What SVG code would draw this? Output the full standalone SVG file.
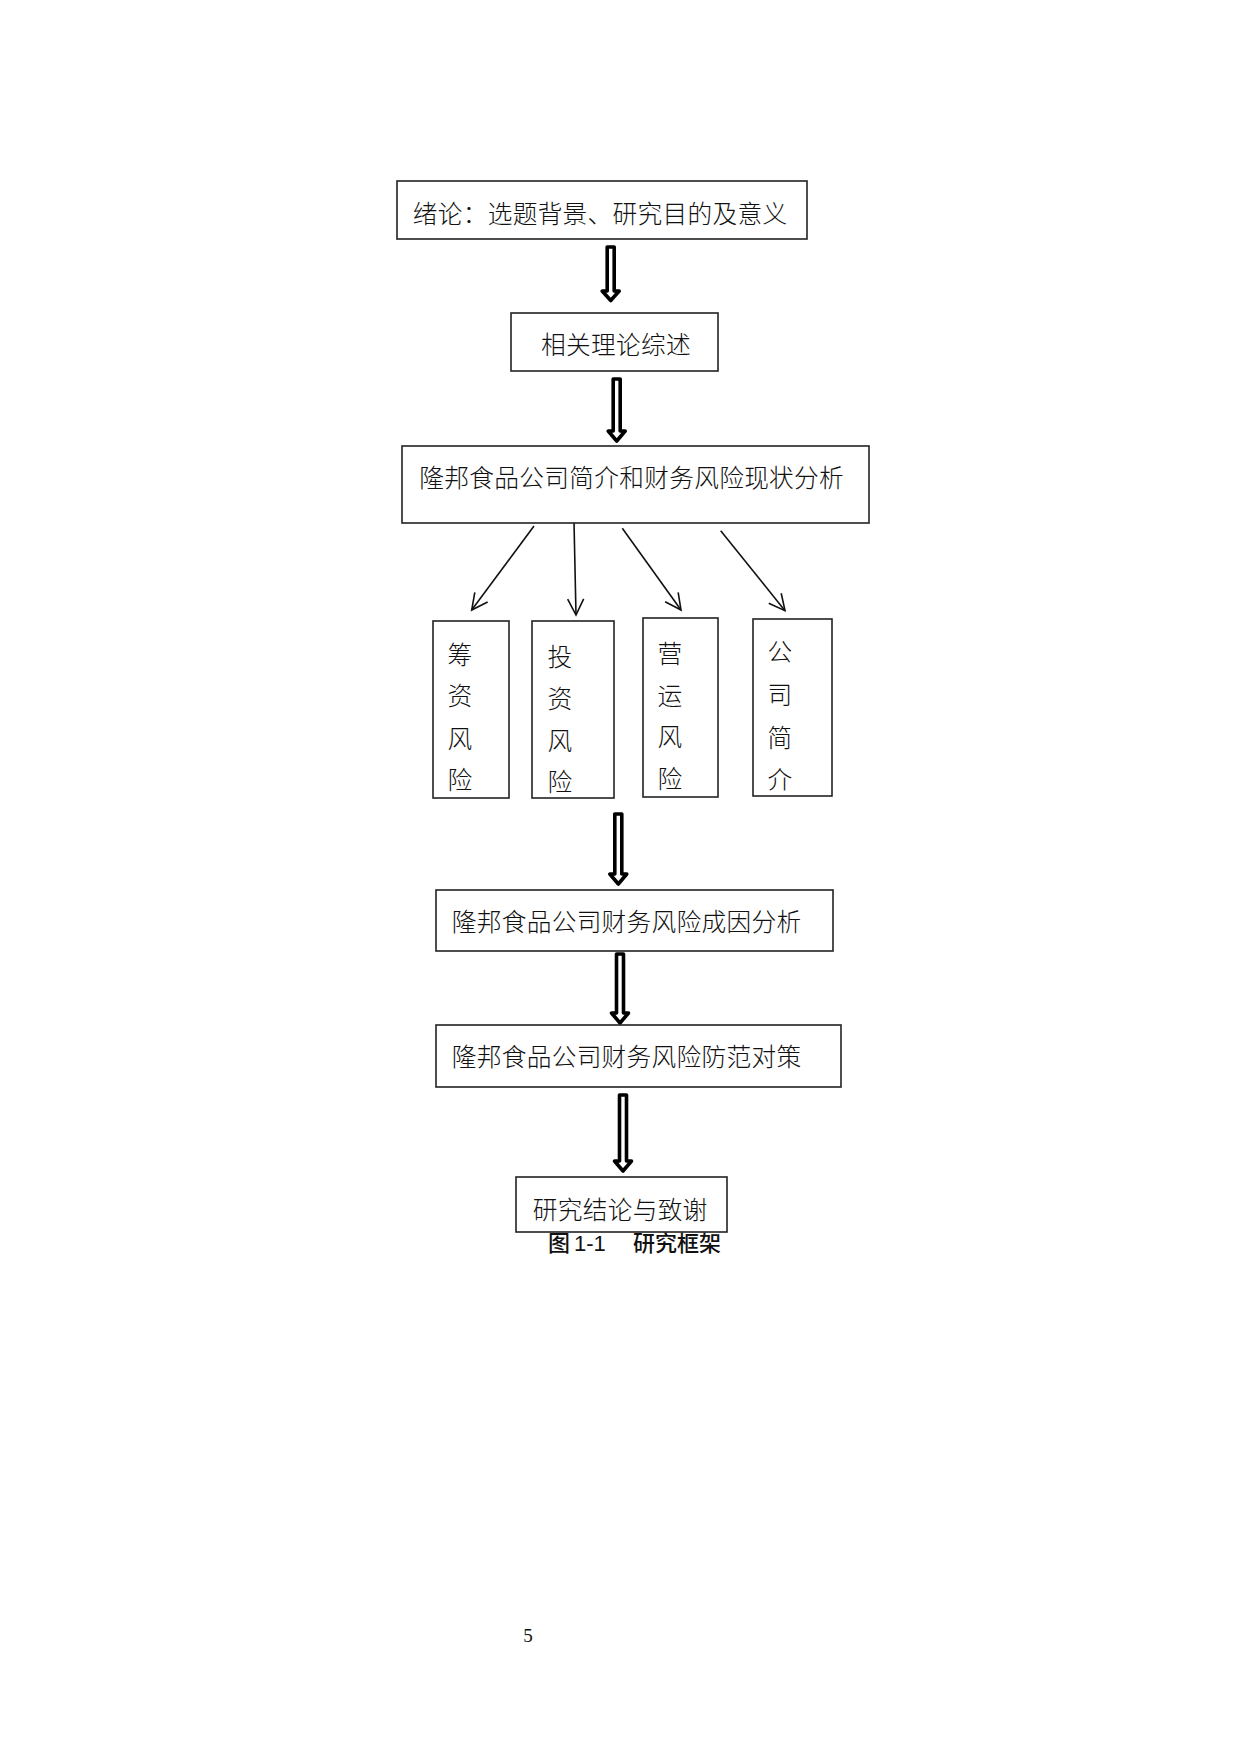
<svg xmlns="http://www.w3.org/2000/svg" width="1240" height="1754" viewBox="0 0 1240 1754">
<style>
.box{fill:#fff;stroke:#222;stroke-width:1.6}
.t{font-family:"Noto Sans CJK SC","Noto Sans CJK JP",sans-serif;font-size:24.7px;font-weight:300;letter-spacing:0.3px;fill:#111}
.cap{font-family:"Noto Sans CJK SC","Liberation Sans",sans-serif;font-size:22px;font-weight:500;fill:#111}
.dbl{fill:#fff;stroke:#000;stroke-width:3.6;stroke-linejoin:round}
.thin{fill:none;stroke:#111;stroke-width:1.6}
</style>
<defs>
<marker id="open" viewBox="0 0 20 20" refX="18" refY="10" markerWidth="20" markerHeight="20" markerUnits="userSpaceOnUse" orient="auto">
<polyline points="2,2 18,10 2,18" fill="none" stroke="#111" stroke-width="1.6"/>
</marker>
</defs>
<rect width="1240" height="1754" fill="#fff"/>
<g id="connectors">
<polygon class="dbl" points="607.2,247 614.2,247 614.2,291 619.2,291 610.7,300.5 602.2,291 607.2,291"/>
<polygon class="dbl" points="613.2,379 620.2,379 620.2,431 625.2,431 616.7,441 608.2,431 613.2,431"/>
<polygon class="dbl" points="614.8,814 621.8,814 621.8,874 626.8,874 618.3,884 609.8,874 614.8,874"/>
<polygon class="dbl" points="616.5,954 623.5,954 623.5,1013 628.5,1013 620,1023 611.5,1013 616.5,1013"/>
<polygon class="dbl" points="619.5,1095 626.5,1095 626.5,1161 631.5,1161 623,1171 614.5,1161 619.5,1161"/>
<line class="thin" x1="534" y1="526" x2="471.7" y2="610" marker-end="url(#open)"/>
<line class="thin" x1="574" y1="521.7" x2="576" y2="615" marker-end="url(#open)"/>
<line class="thin" x1="622.3" y1="528.3" x2="681" y2="610" marker-end="url(#open)"/>
<line class="thin" x1="720.7" y1="530.7" x2="785" y2="610.7" marker-end="url(#open)"/>
</g>
<g id="n1"><rect class="box" x="397" y="181" width="410" height="58"/><text class="t" x="412.7" y="222.7">绪论：选题背景、研究目的及意义</text></g>
<g id="n2"><rect class="box" x="511" y="313" width="207" height="58"/><text class="t" x="541" y="354.4">相关理论综述</text></g>
<g id="n3"><rect class="box" x="402" y="446" width="467" height="77"/><text class="t" x="419.3" y="486.5">隆邦食品公司简介和财务风险现状分析</text></g>
<g id="n4"><rect class="box" x="433" y="621" width="76" height="177"/>
<text class="t" x="447.6" y="663.7">筹</text><text class="t" x="447.6" y="705.4">资</text><text class="t" x="447.6" y="747.7">风</text><text class="t" x="447.6" y="789.4">险</text></g>
<g id="n5"><rect class="box" x="532" y="621" width="82" height="177"/>
<text class="t" x="547.6" y="666">投</text><text class="t" x="547.6" y="707.5">资</text><text class="t" x="547.6" y="749.5">风</text><text class="t" x="547.6" y="791">险</text></g>
<g id="n6"><rect class="box" x="643" y="618" width="75" height="179"/>
<text class="t" x="657.6" y="662.7">营</text><text class="t" x="657.6" y="704.5">运</text><text class="t" x="657.6" y="746">风</text><text class="t" x="657.6" y="787.7">险</text></g>
<g id="n7"><rect class="box" x="753" y="619" width="79" height="177"/>
<text class="t" x="767.6" y="661">公</text><text class="t" x="767.6" y="704.4">司</text><text class="t" x="767.6" y="746.7">简</text><text class="t" x="767.6" y="789.4">介</text></g>
<g id="n8"><rect class="box" x="436" y="890" width="397" height="61"/><text class="t" x="451.7" y="931">隆邦食品公司财务风险成因分析</text></g>
<g id="n9"><rect class="box" x="436" y="1025" width="405" height="62"/><text class="t" x="451.7" y="1066">隆邦食品公司财务风险防范对策</text></g>
<g id="n10"><rect class="box" x="516" y="1177" width="211" height="55"/><text class="t" x="532.7" y="1219.4">研究结论与致谢</text></g>
<g id="caption"><text class="cap" y="1251"><tspan x="548">图</tspan><tspan x="574" font-family="Liberation Sans, sans-serif">1-1</tspan><tspan x="633">研究框架</tspan></text></g>
<text x="528" y="1642" font-family="Liberation Serif, serif" font-size="19" text-anchor="middle" fill="#111">5</text>
</svg>
